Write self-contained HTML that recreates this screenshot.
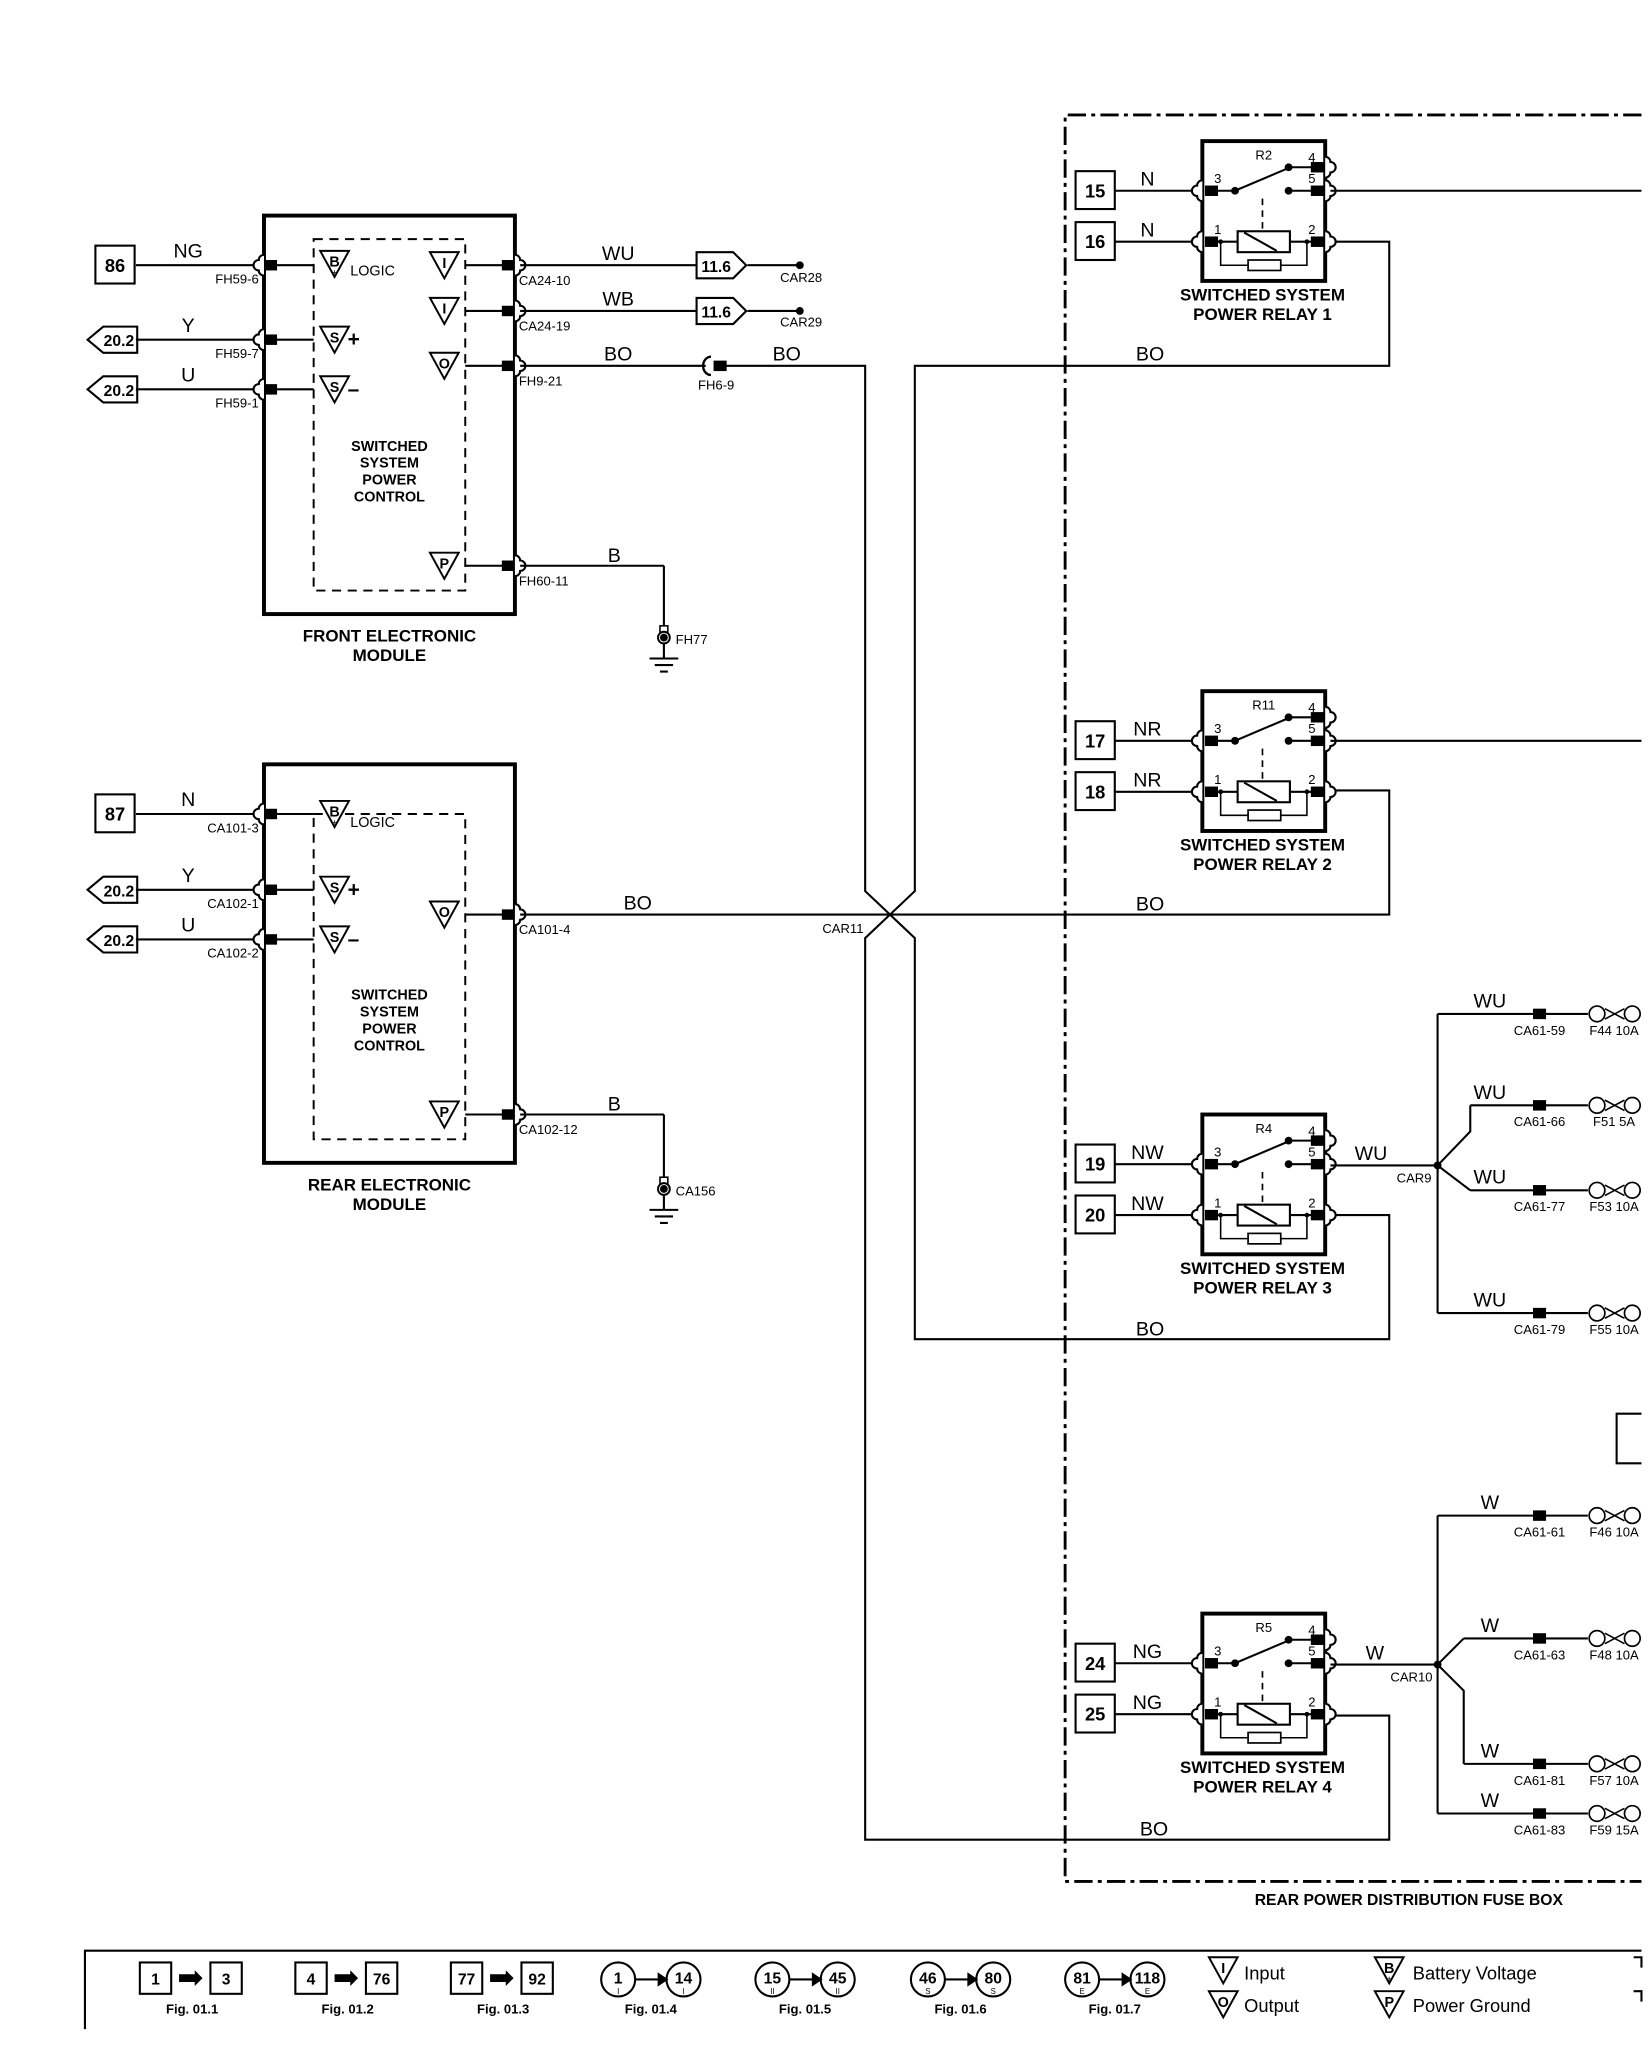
<!DOCTYPE html>
<html><head><meta charset="utf-8"><style>html,body{margin:0;padding:0;background:#fff}svg{display:block}text{font-family:"Liberation Sans",Arial,sans-serif;fill:#000}</style></head>
<body>
<svg id="s" width="1648" height="2050" viewBox="0 0 1261 1569" preserveAspectRatio="none" xmlns="http://www.w3.org/2000/svg" stroke="#000" fill="none" stroke-width="1.6">
</svg>
<script>
var s=document.getElementById('s'),o='';
function L(p,w){o+='<polyline points="'+p+'" stroke-width="'+(w||1.6)+'"/>';}
function R(x,y,w,h,sw,f){o+='<rect x="'+x+'" y="'+y+'" width="'+w+'" height="'+h+'" stroke-width="'+(sw||1.6)+'" fill="'+(f||'none')+'"/>';}
function T(x,y,t,sz,b,a){o+='<text x="'+x+'" y="'+y+'" stroke="none" font-size="'+sz+'"'+(b?' font-weight="bold"':'')+(a?' text-anchor="'+a+'"':'')+'>'+t+'</text>';}
function blk(x,y){o+='<rect x="'+(x-5)+'" y="'+(y-4)+'" width="10" height="8" fill="#000" stroke="none"/>';}
function dot(x,y,r){o+='<circle cx="'+x+'" cy="'+y+'" r="'+(r||3)+'" fill="#000" stroke="none"/>';}
function bumpL(x,y){o+='<path d="M'+x+' '+(y-8)+' a4 4 0 0 0 -4 4 a4 4 0 0 0 0 8 a4 4 0 0 0 4 4" fill="#fff" stroke-width="1.6"/>';}
function bumpR(x,y){o+='<path d="M'+x+' '+(y-8)+' a4 4 0 0 1 4 4 a4 4 0 0 1 0 8 a4 4 0 0 1 -4 4" fill="#fff" stroke-width="1.6"/>';}
function tri(x,y,l,sub){o+='<polygon points="'+x+','+y+' '+(x+22)+','+y+' '+(x+11)+','+(y+20)+'" stroke-width="1.5" fill="#fff"/>';T(x+11,y+12,l,11,1,'middle');if(sub)T(x+11,y+19,sub,7,0,'middle');}
function numbox(x,y,n){R(x,y,30,29,1.6);T(x+15,y+20,n,14,1,'middle');}
function pent(x,y,n){o+='<polygon points="'+(x+38)+','+(y-10)+' '+(x+12)+','+(y-10)+' '+x+','+y+' '+(x+12)+','+(y+10)+' '+(x+38)+','+(y+10)+'" stroke-width="1.6"/>';T(x+24,y+5,n,12,1,'middle');}
function arr(x,y,n){o+='<polygon points="'+x+','+(y-10)+' '+(x+28)+','+(y-10)+' '+(x+38)+','+y+' '+(x+28)+','+(y+10)+' '+x+','+(y+10)+'" stroke-width="1.6"/>';T(x+15,y+5,n,12,1,'middle');}
function gnd(x,y,lab,top){L(x+','+top+' '+x+','+(y+16));R(x-3,y-9,6,5,1.2,'#fff');o+='<circle cx="'+x+'" cy="'+y+'" r="4.5" stroke-width="1.5" fill="#fff"/>';dot(x,y,3);L((x-11)+','+(y+16)+' '+(x+11)+','+(y+16));L((x-7)+','+(y+21)+' '+(x+7)+','+(y+21));L((x-3)+','+(y+26)+' '+(x+3)+','+(y+26));T(x+9,y+5,lab,10);}
function module(y0,dy,name,pins){
 R(202,y0,192,305,3);
 o+='<rect x="240" y="'+(y0+18+dy)+'" width="116" height="'+(269-dy)+'" stroke-width="1.5" stroke-dasharray="7,5"/>';
 pins.forEach(function(p){var y=p[0];
  if(p[3]=='box')numbox(73,y-15,p[1]);else pent(67,y,p[1]);
  L('104,'+y+' 200,'+y);bumpL(202,y);blk(207,y);L('207,'+y+' 240,'+y);
  T(144,y-6,p[2],15,0,'middle');T(198,y+14,p[4],10,0,'end');
 });
 T(298,y0+180,'SWITCHED',11,1,'middle');T(298,y0+193,'SYSTEM',11,1,'middle');T(298,y0+206,'POWER',11,1,'middle');T(298,y0+219,'CONTROL',11,1,'middle');
 T(298,y0+326,name[0],13,1,'middle');T(298,y0+341,name[1],13,1,'middle');
}
module(165,0,['FRONT ELECTRONIC','MODULE'],[[203,'86','NG','box','FH59-6'],[260,'20.2','Y','p','FH59-7'],[298,'20.2','U','p','FH59-1']]);
tri(245,192,'B','+');T(268,211,'LOGIC',11);tri(245,250,'S');T(266,265,'+',16,1);tri(245,288,'S');T(266,303,'\u2013',16,1);
[[203,'I','CA24-10'],[238,'I','CA24-19'],[280,'O','FH9-21'],[433,'P','FH60-11']].forEach(function(p){var y=p[0];tri(329,y-10,p[1]);L('356,'+y+' 389,'+y);blk(389,y);bumpR(394,y);T(397,y+15,p[2],10);});
L('398,203 533,203');T(473,199,'WU',15,0,'middle');arr(533,203,'11.6');L('572,203 612,203');dot(612,203,3);T(613,216,'CAR28',10,0,'middle');
L('398,238 533,238');T(473,234,'WB',15,0,'middle');arr(533,238,'11.6');L('572,238 612,238');dot(612,238,3);T(613,250,'CAR29',10,0,'middle');
L('398,280 540,280');T(473,276,'BO',15,0,'middle');o+='<path d="M544 273 a6 7 0 0 0 0 14" stroke-width="1.8"/>';blk(551,280);L('551,280 662,280 662,682 700,718 700,1025 1063,1025 1063,930 1018,930');T(548,298,'FH6-9',10,0,'middle');T(602,276,'BO',15,0,'middle');
L('398,433 508,433');T(470,430,'B',15,0,'middle');gnd(508,488,'FH77',433);
module(585,20,['REAR ELECTRONIC','MODULE'],[[623,'87','N','box','CA101-3'],[681,'20.2','Y','p','CA102-1'],[719,'20.2','U','p','CA102-2']]);
tri(245,613,'B','+');T(268,633,'LOGIC',11);tri(245,671,'S');T(266,686,'+',16,1);tri(245,709,'S');T(266,724,'\u2013',16,1);
[[700,'O','CA101-4'],[853,'P','CA102-12']].forEach(function(p){var y=p[0];tri(329,y-10,p[1]);L('356,'+y+' 389,'+y);blk(389,y);bumpR(394,y);T(397,y+15,p[2],10);});
L('398,700 1063,700 1063,605 1018,605');T(488,696,'BO',15,0,'middle');T(645,714,'CAR11',10,0,'middle');
L('398,853 508,853');T(470,850,'B',15,0,'middle');gnd(508,910,'CA156',853);
L('1018,185 1063,185 1063,280 700,280 700,682 662,718 662,1408 1063,1408 1063,1313 1018,1313');
T(880,276,'BO',15,0,'middle');T(880,697,'BO',15,0,'middle');T(880,1022,'BO',15,0,'middle');T(883,1405,'BO',15,0,'middle');
o+='<polyline points="1256,88 815,88 815,1440 1256,1440" stroke-width="2.2" stroke-dasharray="14,4,3,4"/>';
T(1078,1458,'REAR POWER DISTRIBUTION FUSE BOX',12,1,'middle');
function relay(y0,rn,a,b,wc,num){
 var y3=y0+38,y1=y0+77,y4=y0+20;
 R(920,y0,94,107,3);
 numbox(823,y3-15,a);numbox(823,y1-15,b);
 L('853,'+y3+' 918,'+y3);L('853,'+y1+' 918,'+y1);T(878,y3-4,wc,15,0,'middle');T(878,y1-4,wc,15,0,'middle');
 bumpL(920,y3);bumpL(920,y1);bumpR(1014,y3);bumpR(1014,y1);bumpR(1014,y4);
 blk(927,y3);blk(927,y1);blk(1008,y3);blk(1008,y1);blk(1008,y4);
 T(929,y3-6,'3',10);T(929,y1-6,'1',10);T(1001,y4-4,'4',10);T(1001,y3-6,'5',10);T(1001,y1-6,'2',10);T(967,y0+14,rn,10,0,'middle');
 L('927,'+y3+' 945,'+y3+' 985,'+(y4+1));L('985,'+y4+' 1008,'+y4);L('985,'+y3+' 1008,'+y3);dot(945,y3,3);dot(986,y4,3);dot(986,y3,3);
 o+='<line x1="966" y1="'+(y3+6)+'" x2="966" y2="'+(y1-8)+'" stroke-dasharray="5,4" stroke-width="1.3"/>';
 L('927,'+y1+' 947,'+y1);R(947,y1-8,40,16,1.6);L('952,'+(y1-7)+' 977,'+(y1+7));L('987,'+y1+' 1008,'+y1);
 dot(934,y1,1.8);dot(1000,y1,1.8);L('934,'+y1+' 934,'+(y1+18)+' 1000,'+(y1+18)+' 1000,'+y1,1.2);R(955,y1+14,25,8,1.3,'#fff');
 T(966,y0+122,'SWITCHED SYSTEM',13,1,'middle');T(966,y0+137,'POWER RELAY '+num,13,1,'middle');
}
relay(108,'R2','15','16','N',1);relay(529,'R11','17','18','NR',2);relay(853,'R4','19','20','NW',3);relay(1235,'R5','24','25','NG',4);
L('1018,146 1256,146');L('1018,567 1256,567');
function fsym(y){o+='<circle cx="1222" cy="'+y+'" r="6" stroke-width="1.3" fill="#fff"/><circle cx="1249" cy="'+y+'" r="6" stroke-width="1.3" fill="#fff"/><polyline points="1228,'+(y-4)+' 1243,'+(y+4)+'" stroke-width="1.2"/><polyline points="1228,'+(y+4)+' 1243,'+(y-4)+'" stroke-width="1.2"/>';}
function fuse(y,c,f,w,x0){L((x0||1100)+','+y+' 1215,'+y);blk(1178,y);T(1178,y+16,c,10,0,'middle');T(1235,y+16,f,10,0,'middle');T(1140,y-5,w,15,0,'middle');fsym(y);}
L('1018,892 1100,892');T(1049,888,'WU',15,0,'middle');T(1082,905,'CAR9',10,0,'middle');dot(1100,892,3);
L('1100,776 1100,1005');L('1100,892 1125,866 1125,846');L('1100,892 1125,911');
fuse(776,'CA61-59','F44 10A','WU');fuse(846,'CA61-66','F51 5A','WU',1125);
fuse(911,'CA61-77','F53 10A','WU',1125);fuse(1005,'CA61-79','F55 10A','WU');
L('1018,1274 1100,1274');T(1052,1270,'W',15,0,'middle');T(1080,1287,'CAR10',10,0,'middle');dot(1100,1274,3);
L('1100,1160 1100,1388');L('1100,1274 1120,1254');L('1100,1274 1120,1294 1120,1350');
fuse(1160,'CA61-61','F46 10A','W');fuse(1254,'CA61-63','F48 10A','W',1120);fuse(1350,'CA61-81','F57 10A','W',1120);fuse(1388,'CA61-83','F59 15A','W');
L('1256,1082 1237,1082 1237,1120 1256,1120');
L('1256,1493 65,1493 65,1553',1.6);
function lb(x,a,b,f){R(x,1502,24,24,1.6);R(x+54,1502,24,24,1.6);T(x+12,1519,a,12,1,'middle');T(x+66,1519,b,12,1,'middle');o+='<polygon points="'+(x+30)+',1511 '+(x+42)+',1511 '+(x+42)+',1508 '+(x+48)+',1514 '+(x+42)+',1520 '+(x+42)+',1517 '+(x+30)+',1517" fill="#000" stroke="none"/>';T(x+40,1541,f,10,1,'middle');}
function lc(x,a,b,s2,f){o+='<circle cx="'+(x+13)+'" cy="1515" r="13" stroke-width="1.6"/><circle cx="'+(x+63)+'" cy="1515" r="13" stroke-width="1.6"/>';T(x+13,1518,a,12,1,'middle');T(x+63,1518,b,12,1,'middle');T(x+13,1526,s2,6,0,'middle');T(x+63,1526,s2,6,0,'middle');L((x+26)+',1515 '+(x+50)+',1515');o+='<polygon points="'+(x+44)+',1511 '+(x+50)+',1515 '+(x+44)+',1519" fill="#000"/>';T(x+38,1541,f,10,1,'middle');}
lb(107,'1','3','Fig. 01.1');lb(226,'4','76','Fig. 01.2');lb(345,'77','92','Fig. 01.3');
lc(460,'1','14','I','Fig. 01.4');lc(578,'15','45','II','Fig. 01.5');lc(697,'46','80','S','Fig. 01.6');lc(815,'81','118','E','Fig. 01.7');
tri(925,1498,'I');T(952,1515,'Input',14);tri(925,1524,'O');T(952,1540,'Output',14);
tri(1052,1498,'B','+');T(1081,1515,'Battery Voltage',14);tri(1052,1524,'P');T(1081,1540,'Power Ground',14);
L('1250,1498 1256,1498 1256,1506');L('1250,1524 1256,1524 1256,1532');
s.innerHTML=o;
</script>
</body></html>
